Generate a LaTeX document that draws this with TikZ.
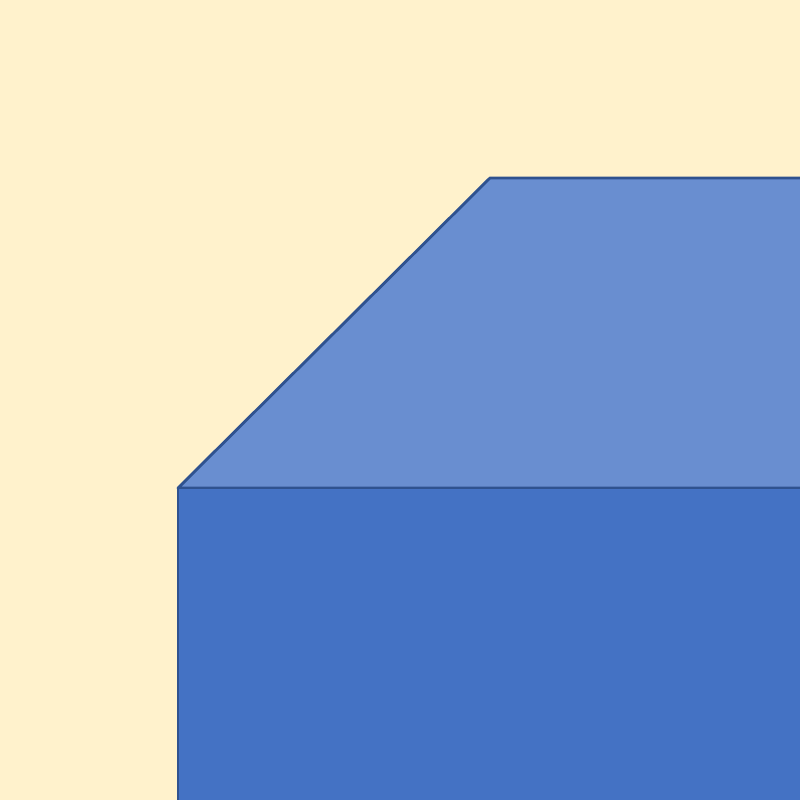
\documentclass[tikz,border=0pt]{standalone}
\usetikzlibrary{calc}
\definecolor{cream}{HTML}{FFF2CC}
\definecolor{lid}{HTML}{698ED0}
\definecolor{face}{HTML}{4472C4}
\definecolor{edge}{HTML}{2F528F}

\begin{document}
\begin{tikzpicture}[face/.style={fill=face,draw=edge,line width=0.8pt,line join=round},lid/.style={fill=lid,draw=edge,line width=0.8pt,line join=round}]
  \fill[cream] (0,0) rectangle (8,8);
  \useasboundingbox (0,0) rectangle (8,8);
  \clip (0,0) rectangle (8,8);
  \coordinate (fl) at (1.78,3.12); \coordinate (bl) at (4.90,6.22);
  \draw[lid] (fl) -- (bl) -- (8.2,6.22) -- (8.2,3.12) -- cycle;
  \draw[face] (fl) -- (8.2,3.12) -- (8.2,-0.2) -- (1.78,-0.2) -- cycle;
\end{tikzpicture}
\end{document}
